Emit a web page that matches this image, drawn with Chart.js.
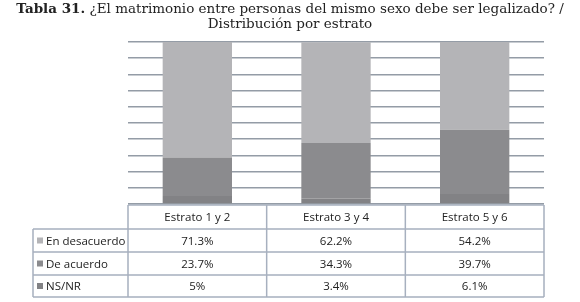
<!DOCTYPE html>
<html>
<head>
<meta charset="utf-8">
<script src="https://cdn.jsdelivr.net/npm/chart.js@4"></script>
<style>
  html, body { margin: 0; padding: 0; background: #fff; }
  #wrap { width: 580px; height: 302px; }
</style>
</head>
<body>
<div id="wrap"><canvas id="chart" width="580" height="302"></canvas></div>
<script>
const categories = ['Estrato 1 y 2', 'Estrato 3 y 4', 'Estrato 5 y 6'];
const seriesNames = ['En desacuerdo', 'De acuerdo', 'NS/NR'];
const enDesacuerdo = [71.3, 62.2, 54.2];
const deAcuerdo = [23.7, 34.3, 39.7];
const nsnr = [5, 3.4, 6.1];
const cellLabels = [
  ['71.3%', '62.2%', '54.2%'],
  ['23.7%', '34.3%', '39.7%'],
  ['5%', '3.4%', '6.1%']
];
const seriesColors = ['#b4b4b7', '#8b8b8e', '#828285'];

// title + data table below the bars
const tablePlugin = {
  id: 'tablePlugin',
  afterDraw(chart) {
    const ctx = chart.ctx;
    const x = chart.scales.x;
    const area = chart.chartArea;

    ctx.save();
    // title
    ctx.fillStyle = '#222';
    ctx.textBaseline = 'middle';
    const boldPart = 'Tabla 31.';
    const rest = ' ¿El matrimonio entre personas del mismo sexo debe ser legalizado? /';
    ctx.font = 'bold 13.5px "DejaVu Serif"';
    const w1 = ctx.measureText(boldPart).width;
    ctx.font = '13.5px "DejaVu Serif"';
    const w2 = ctx.measureText(rest).width;
    let tx = 290 - (w1 + w2) / 2;
    ctx.font = 'bold 13.5px "DejaVu Serif"';
    ctx.textAlign = 'left';
    ctx.fillText(boldPart, tx, 9);
    ctx.font = '13.5px "DejaVu Serif"';
    ctx.fillText(rest, tx + w1, 9);
    ctx.textAlign = 'center';
    ctx.fillText('Distribución por estrato', 290, 24);

    // table grid
    const colW = (area.right - area.left) / categories.length;
    const left = 33;
    const top = area.bottom + 1;
    const rows = [top, 229, 252, 275, 297];
    ctx.strokeStyle = '#a7b0bf';
    ctx.lineWidth = 1.5;
    ctx.beginPath();
    // horizontal lines
    ctx.moveTo(area.left, rows[0]); ctx.lineTo(area.right, rows[0]);
    for (let i = 1; i < rows.length; i++) {
      ctx.moveTo(left, rows[i]); ctx.lineTo(area.right, rows[i]);
    }
    // vertical lines
    ctx.moveTo(left, rows[1]); ctx.lineTo(left, rows[4]);
    for (let i = 0; i <= categories.length; i++) {
      const vx = area.left + i * colW;
      ctx.moveTo(vx, rows[0]); ctx.lineTo(vx, rows[4]);
    }
    ctx.stroke();

    ctx.fillStyle = '#222';
    ctx.font = '11.5px "Open Sans"';
    ctx.textAlign = 'center';
    categories.forEach((c, i) => {
      ctx.fillText(c, x.getPixelForValue(i), (rows[0] + rows[1]) / 2 + 1);
    });
    seriesNames.forEach((name, r) => {
      const cy = (rows[r + 1] + rows[r + 2]) / 2 + 1;
      ctx.fillStyle = seriesColors[r];
      ctx.fillRect(37, cy - 4, 6, 6);
      ctx.fillStyle = '#222';
      ctx.textAlign = 'left';
      ctx.fillText(name, 46, cy);
      ctx.textAlign = 'center';
      cellLabels[r].forEach((t, i) => {
        ctx.fillText(t, x.getPixelForValue(i), cy);
      });
    });
    ctx.restore();
  }
};

new Chart(document.getElementById('chart'), {
  type: 'bar',
  data: {
    labels: categories,
    datasets: [
      { label: 'NS/NR', data: nsnr, backgroundColor: seriesColors[2] },
      { label: 'De acuerdo', data: deAcuerdo, backgroundColor: seriesColors[1] },
      { label: 'En desacuerdo', data: enDesacuerdo, backgroundColor: seriesColors[0] }
    ]
  },
  options: {
    responsive: false,
    animation: false,
    layout: { padding: { left: 128, right: 36, top: 42, bottom: 98 } },
    datasets: { bar: { barPercentage: 0.5, categoryPercentage: 1.0 } },
    scales: {
      x: { stacked: true, display: false },
      y: {
        stacked: true,
        min: 0,
        max: 100,
        ticks: { display: false, stepSize: 10 },
        border: { display: false },
        grid: { color: '#949ca6', lineWidth: 1.5, drawTicks: false }
      }
    },
    plugins: {
      legend: { display: false },
      tooltip: { enabled: false }
    }
  },
  plugins: [tablePlugin]
});
</script>
</body>
</html>
